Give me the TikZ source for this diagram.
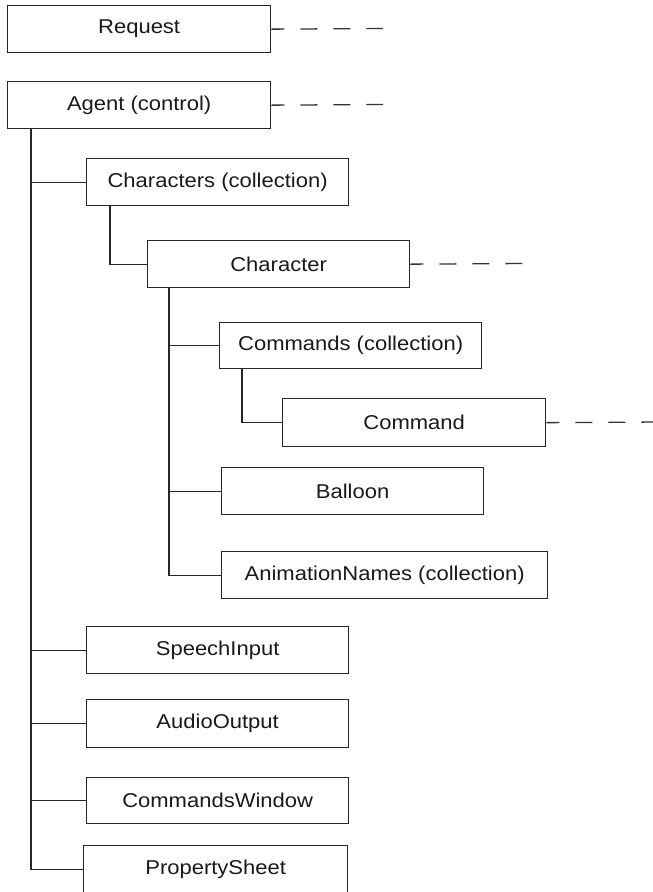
\documentclass[tikz,border=0pt]{standalone}
\usepackage{fontspec}
\setmainfont{Liberation Sans}[FakeStretch=1.1]
\begin{document}
\begin{tikzpicture}[x=1pt,y=-1pt,
  box/.style={draw=black!85, line width=1.3pt, rectangle, inner sep=0pt, anchor=north west,
    font=\fontsize{20}{24}\selectfont, text=black!90},
  link/.style={draw=black!85, line width=1.3pt},
  dashlink/.style={draw=black!80, line width=1.3pt, dash pattern=on 17pt off 16pt, dash phase=4pt}]
\useasboundingbox (0,0) rectangle (653,892);
\begin{scope}
\clip (0,0) rectangle (653,892);
\node[box, minimum width=263pt, minimum height=47pt] (request) at (7,5) {Request};
\node[box, minimum width=263pt, minimum height=47pt] (agent) at (7,81) {Agent (control)};
\node[box, minimum width=262pt, minimum height=47pt] (chars) at (86,158) {Characters (collection)};
\node[box, minimum width=262pt, minimum height=47pt] (char) at (147,240) {Character};
\node[box, minimum width=262pt, minimum height=46pt] (cmds) at (219,322) {Commands (collection)};
\node[box, minimum width=263pt, minimum height=48pt] (cmd) at (282,398) {Command};
\node[box, minimum width=262pt, minimum height=47pt] (balloon) at (221,467) {Balloon};
\node[box, minimum width=326pt, minimum height=47pt] (anim) at (221,551) {AnimationNames (collection)};
\node[box, minimum width=262pt, minimum height=47pt] (speech) at (86,626) {SpeechInput};
\node[box, minimum width=262pt, minimum height=48pt] (audio) at (86,699) {AudioOutput};
\node[box, minimum width=262pt, minimum height=46pt] (cwin) at (86,777) {CommandsWindow};
\node[box, minimum width=264pt, minimum height=48pt] (psheet) at (83,845) {PropertySheet};

\coordinate (e1) at (383,28.5);
\coordinate (e2) at (383,104.5);
\coordinate (e3) at (525,263.5);
\coordinate (e4) at (660,422);
\draw[dashlink] (request.east) -- (e1);
\draw[dashlink] (agent.east) -- (e2);
\draw[dashlink] (char.east) -- (e3);
\draw[dashlink] (cmd.east) -- (e4);

\draw[link] ([xshift=24pt]agent.south west) |- (chars.west);
\draw[link] ([xshift=24pt]agent.south west) |- (speech.west);
\draw[link] ([xshift=24pt]agent.south west) |- (audio.west);
\draw[link] ([xshift=24pt]agent.south west) |- (cwin.west);
\draw[link] ([xshift=24pt]agent.south west) |- (psheet.west);
\draw[link] ([xshift=24pt]chars.south west) |- (char.west);
\draw[link] ([xshift=22pt]char.south west) |- (cmds.west);
\draw[link] ([xshift=22pt]char.south west) |- (balloon.west);
\draw[link] ([xshift=22pt]char.south west) |- (anim.west);
\draw[link] ([xshift=23pt]cmds.south west) |- (cmd.west);
\end{scope}
\end{tikzpicture}
\end{document}
